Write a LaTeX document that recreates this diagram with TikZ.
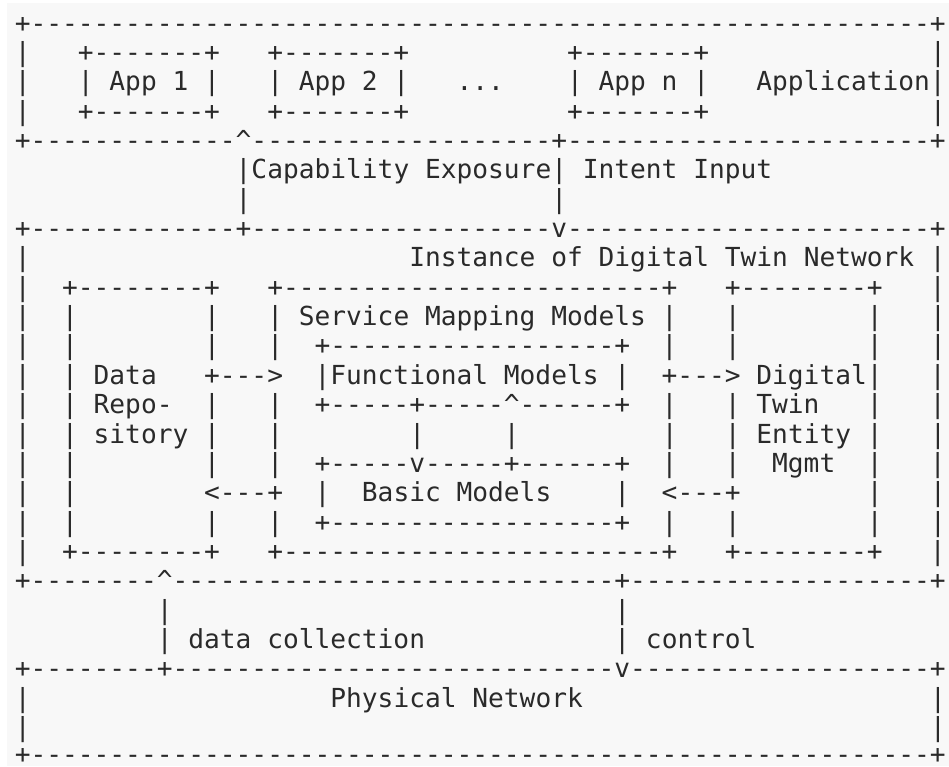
\documentclass[tikz,border=0pt]{standalone}
\usepackage{fontspec}
\newfontfamily\asciimono[WordSpace={1,0,0},HyphenChar=None,PunctuationSpace=WordSpace]{DejaVu Sans Mono}
\definecolor{inkgray}{HTML}{2A2A2A}
\definecolor{paper}{HTML}{F8F8F8}
% runs of dashes and of blank character cells
\ExplSyntaxOn
\cs_new:Npn \dashrun #1 { \prg_replicate:nn {#1} { - } }
\cs_new:Npn \gaprun #1 { \prg_replicate:nn {#1} { \phantom{0} } }
\ExplSyntaxOff
\newcommand\caret{\textasciicircum}
\tikzset{
  asciirow/.style={anchor=base west, inner sep=0pt, outer sep=0pt, text=inkgray,
    font=\asciimono\fontsize{26.21pt}{29.36pt}\selectfont\frenchspacing}
}
% one line of the figure: #1 = extra options, #2 = line number, #3 = its characters
\newcommand\asciiline[3][]{\node[asciirow,#1] (row#2) at (14.8,{32+29.36*#2}) {#3};}
\begin{document}
\begin{tikzpicture}[x=1pt,y=-1pt]
\useasboundingbox (0,0) rectangle (949,766);
\fill[white] (0,0) rectangle (949,766);
\fill[paper] (7,3) rectangle (949,766);
\asciiline{0}{+\dashrun{57}+}
\asciiline{1}{|\gaprun3+\dashrun7+\gaprun3+\dashrun7+\gaprun{10}+\dashrun7+\gaprun{14}|}
\asciiline{2}{|\gaprun3| App 1 |\gaprun3| App 2 |\gaprun3...\gaprun4| App n |\gaprun3Application|}
\asciiline{3}{|\gaprun3+\dashrun7+\gaprun3+\dashrun7+\gaprun{10}+\dashrun7+\gaprun{14}|}
\asciiline{4}{+\dashrun{13}\caret\dashrun{19}+\dashrun{23}+}
\asciiline{5}{\gaprun{14}|Capability Exposure| Intent Input}
\asciiline{6}{\gaprun{14}|\gaprun{19}|}
\asciiline{7}{+\dashrun{13}+\dashrun{19}v\dashrun{23}+}
\asciiline{8}{|\gaprun{24}Instance of Digital Twin Network\gaprun1|}
\asciiline{9}{|\gaprun2+\dashrun8+\gaprun3+\dashrun{24}+\gaprun3+\dashrun8+\gaprun3|}
\asciiline{10}{|\gaprun2|\gaprun8|\gaprun3| Service Mapping Models |\gaprun3|\gaprun8|\gaprun3|}
\asciiline{11}{|\gaprun2|\gaprun8|\gaprun3|\gaprun2+\dashrun{18}+\gaprun2|\gaprun3|\gaprun8|\gaprun3|}
\asciiline{12}{|\gaprun2| Data\gaprun3+--->\gaprun2|Functional Models |\gaprun2+---> Digital|\gaprun3|}
\asciiline{13}{|\gaprun2| Repo-\gaprun2|\gaprun3|\gaprun2+\dashrun5+\dashrun5\caret\dashrun6+\gaprun2|\gaprun3| Twin\gaprun3|\gaprun3|}
\asciiline{14}{|\gaprun2| sitory |\gaprun3|\gaprun8|\gaprun5|\gaprun9|\gaprun3| Entity |\gaprun3|}
\asciiline{15}{|\gaprun2|\gaprun8|\gaprun3|\gaprun2+\dashrun5v\dashrun5+\dashrun6+\gaprun2|\gaprun3|\gaprun2Mgmt\gaprun2|\gaprun3|}
\asciiline{16}{|\gaprun2|\gaprun8<---+\gaprun2|\gaprun2Basic Models\gaprun4|\gaprun2<---+\gaprun8|\gaprun3|}
\asciiline{17}{|\gaprun2|\gaprun8|\gaprun3|\gaprun2+\dashrun{18}+\gaprun2|\gaprun3|\gaprun8|\gaprun3|}
\asciiline{18}{|\gaprun2+\dashrun8+\gaprun3+\dashrun{24}+\gaprun3+\dashrun8+\gaprun3|}
\asciiline{19}{+\dashrun8\caret\dashrun{28}+\dashrun{19}+}
\asciiline{20}{\gaprun9|\gaprun{28}|}
\asciiline{21}{\gaprun9| data collection\gaprun{12}| control}
\asciiline{22}{+\dashrun8+\dashrun{28}v\dashrun{19}+}
\asciiline{23}{|\gaprun{19}Physical Network\gaprun{22}|}
\asciiline{24}{|\gaprun{57}|}
\asciiline[text depth=0pt,yshift=3pt]{25}{+\dashrun{57}+}
\end{tikzpicture}
\end{document}
